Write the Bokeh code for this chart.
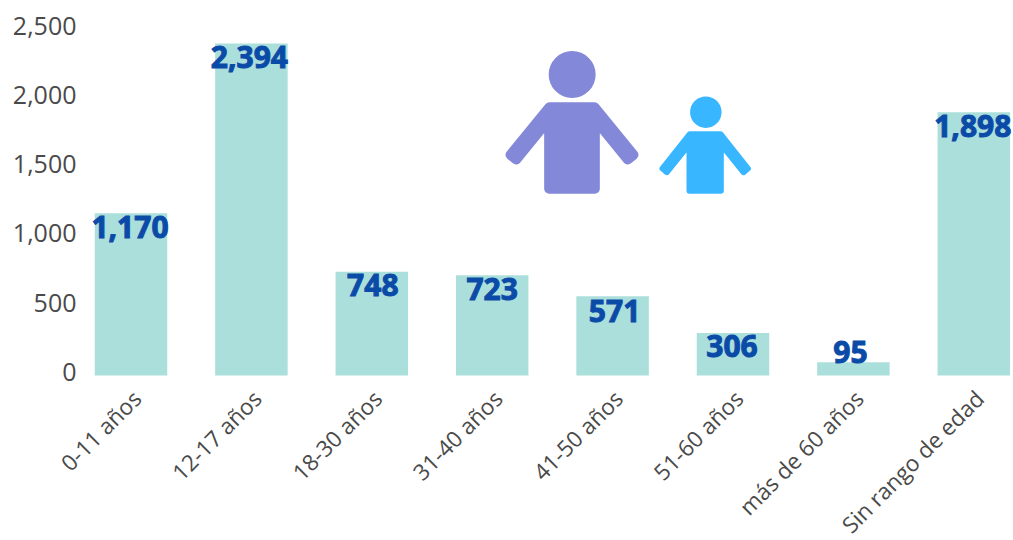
from math import pi
from bokeh.plotting import figure
from bokeh.models import Range1d, LinearAxis, FixedTicker, ColumnDataSource, NumeralTickFormatter
from bokeh.core.properties import value
from bokeh.embed import file_html
from bokeh.resources import INLINE

categories = ["0-11 años", "12-17 años", "18-30 años", "31-40 años", "41-50 años",
              "51-60 años", "más de 60 años", "Sin rango de edad"]
values = [1170, 2394, 748, 723, 571, 306, 95, 1898]
value_labels = ["1,170", "2,394", "748", "723", "571", "306", "95", "1,898"]
y_ticks = [0, 500, 1000, 1500, 2000, 2500]
label_dy = [14, 14, 13, 14, 15, 13, -10, 14]
label_dx = [-1, -2, 1, 0, 2, -1, -3, -1]

BAR = "#ABDFDB"
LABEL = "#0B4BA8"
AXIS = "#4A4A4A"
FONT = "Open Sans"

# image geometry
PX0, PXU = 130.5, 120.4   # x of first category, px per category
BASE, PYU = 375.0, 0.1387 # y of zero, px per unit
W, H = 1013, 540
def dx(px): return (px - PX0) / PXU
def dy(py): return (BASE - py) / PYU

p = figure(width=W, height=H, output_backend="svg", toolbar_location=None,
           x_range=Range1d(dx(0), dx(W)), y_range=Range1d(dy(H), dy(0)),
           x_axis_location=None, y_axis_location=None,
           min_border_left=0, min_border_right=0, min_border_top=0,
           min_border_bottom=0, outline_line_color=None,
           background_fill_color="white", border_fill_color="white")
p.grid.visible = False

# axes use ranges nudged so the labels sit where the reference has them
p.extra_y_ranges["ticks"] = Range1d((371.5 - H) / 0.1386, 371.5 / 0.1386)
p.extra_x_ranges["cats"] = Range1d(dx(0) - 6 / PXU, dx(W) - 6 / PXU)

yax = LinearAxis(y_range_name="ticks", ticker=FixedTicker(ticks=y_ticks),
                 formatter=NumeralTickFormatter(format="0,0"),
                 axis_line_color=None, major_tick_line_color=None, minor_tick_line_color=None,
                 major_label_text_font=FONT, major_label_text_font_size="25px",
                 major_label_text_color=AXIS, major_label_standoff=4,
                 fixed_location=dx(86))
p.add_layout(yax, "left")

xax = LinearAxis(x_range_name="cats", ticker=FixedTicker(ticks=list(range(len(categories)))),
                 major_label_overrides={i: c for i, c in enumerate(categories)},
                 axis_line_color=None, major_tick_line_color=None, minor_tick_line_color=None,
                 major_label_orientation=pi / 4, major_label_text_font=FONT,
                 major_label_text_font_size="22.5px", major_label_text_color=AXIS,
                 major_label_standoff=13, fixed_location=0)
p.add_layout(xax, "below")

src = ColumnDataSource(dict(x=list(range(len(categories))), v=values, t=value_labels,
                            dy=label_dy, dx=label_dx))
p.vbar(x="x", top="v", width=72.5 / PXU, bottom=0, source=src, fill_color=BAR, line_color=None)
p.text(x="x", y="v", text="t", source=src, x_offset="dx", y_offset="dy",
       text_align="center", text_baseline="middle", text_color=LABEL,
       text_font=value(FONT), text_font_style="bold", text_font_size="30px",
       text_outline_color=LABEL)

# decorative people icons, outlines in zoom-crop pixels
def zx(z): return dx(490 + z / 3)
def zy(z): return dy(40 + z / 3)
big = [(177,200),(312,200),(429,343),(412,357),(313,236),(313,445),(176,445),(176,236),(77,357),(60,343)]
small = [(598,281),(690,281),(772,384),(759,395),(691,310),(691,451),(597,451),(597,310),(529,395),(516,384)]
for poly, col, lw in ((big, "#8388D8", 10), (small, "#38B6FF", 6)):
    p.patch([zx(a) for a, b in poly], [zy(b) for a, b in poly], fill_color=col,
            line_color=col, line_width=lw, line_join="round")
p.scatter([zx(245)], [zy(102)], size=47, marker="circle", fill_color="#8388D8", line_color=None)
p.scatter([zx(646)], [zy(215)], size=31.5, marker="circle", fill_color="#38B6FF", line_color=None)

open("out.html", "w").write(file_html(p, INLINE))
